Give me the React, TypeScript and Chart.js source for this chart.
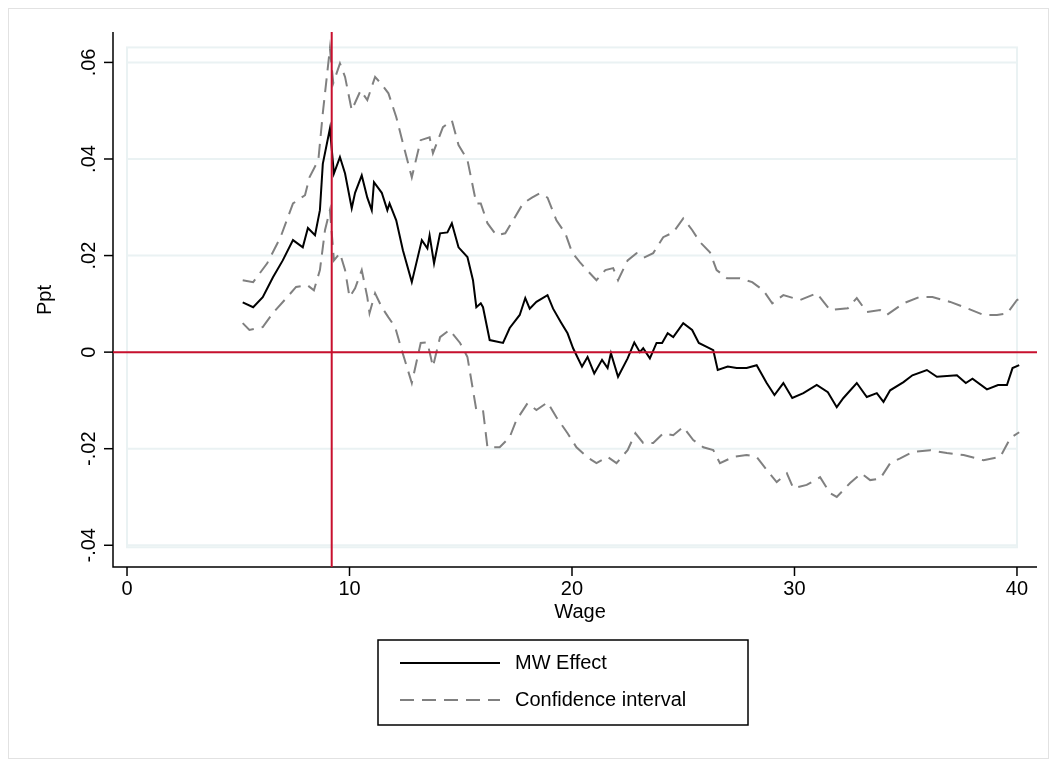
import { Chart, registerables } from 'chart.js';
import { useEffect, useRef } from 'react';

Chart.register(...registerables);

const effectX = [5.2, 5.67, 6.1, 6.56, 7.0, 7.46, 7.9, 8.13, 8.45, 8.67, 8.8, 9.12, 9.3, 9.57, 9.8, 10.1, 10.25, 10.55, 10.8, 11.0, 11.1, 11.45, 11.7, 11.8, 12.1, 12.4, 12.8, 13.25, 13.5, 13.6, 13.8, 14.07, 14.4, 14.6, 14.9, 15.3, 15.55, 15.7, 15.9, 16.0, 16.3, 16.9, 17.2, 17.65, 17.9, 18.1, 18.4, 18.9, 19.15, 19.5, 19.8, 20.05, 20.45, 20.7, 21.0, 21.35, 21.6, 21.75, 22.07, 22.5, 22.8, 23.05, 23.2, 23.5, 23.8, 24.05, 24.3, 24.55, 25.0, 25.4, 25.7, 26.1, 26.35, 26.55, 27.0, 27.4, 27.85, 28.3, 28.75, 29.1, 29.5, 29.9, 30.4, 31.0, 31.5, 31.9, 32.2, 32.8, 33.25, 33.7, 34.0, 34.3, 34.9, 35.3, 35.95, 36.4, 37.3, 37.7, 38.0, 38.65, 39.15, 39.55, 39.8, 40.1];
const effectY = [0.0103, 0.0093, 0.0114, 0.0155, 0.019, 0.0232, 0.0217, 0.0257, 0.0242, 0.0294, 0.039, 0.0463, 0.037, 0.0404, 0.037, 0.0298, 0.033, 0.0366, 0.032, 0.0294, 0.0352, 0.033, 0.0294, 0.0308, 0.0273, 0.0211, 0.0145, 0.0232, 0.0215, 0.0242, 0.0184, 0.0246, 0.0248, 0.0267, 0.0217, 0.0197, 0.0149, 0.0093, 0.0101, 0.0093, 0.0025, 0.0019, 0.005, 0.0077, 0.0112, 0.009, 0.0104, 0.0118, 0.009, 0.0062, 0.0039, 0.0008, -0.003, -0.001, -0.0044, -0.0016, -0.0033, -0.0002, -0.0051, -0.0013, 0.002, 0.0, 0.0008, -0.0013, 0.0019, 0.0019, 0.0039, 0.0031, 0.006, 0.0046, 0.0019, 0.001, 0.0004, -0.0037, -0.003, -0.0033, -0.0033, -0.0027, -0.0064, -0.0089, -0.0064, -0.0095, -0.0085, -0.0068, -0.0083, -0.0114, -0.0095, -0.0064, -0.0093, -0.0085, -0.0103, -0.0079, -0.0062, -0.0048, -0.0037, -0.0051, -0.0048, -0.0064, -0.0055, -0.0077, -0.0068, -0.0068, -0.0033, -0.0027];

const upperX = [5.2, 5.67, 6.3, 6.9, 7.46, 8.0, 8.2, 8.6, 8.8, 9.12, 9.27, 9.57, 9.8, 10.1, 10.5, 10.8, 11.15, 11.4, 11.75, 12.1, 12.4, 12.8, 13.2, 13.6, 13.75, 14.2, 14.6, 14.9, 15.3, 15.7, 15.9, 16.2, 16.6, 17.0, 17.35, 17.8, 18.2, 18.55, 18.9, 19.3, 19.7, 20.0, 20.36, 20.67, 21.1, 21.5, 21.85, 22.07, 22.5, 22.9, 23.2, 23.65, 24.1, 24.55, 25.0, 25.4, 25.75, 26.2, 26.5, 26.97, 27.55, 28.1, 28.6, 29.0, 29.5, 30.25, 31.0, 31.6, 32.4, 32.8, 33.25, 33.85, 34.15, 34.9, 35.6, 36.2, 37.0, 37.75, 38.5, 39.1, 39.55, 40.0, 40.1];
const upperY = [0.0149, 0.0145, 0.0184, 0.0238, 0.0308, 0.0325, 0.0362, 0.0398, 0.0495, 0.0629, 0.0557, 0.0598, 0.057, 0.0501, 0.0542, 0.0522, 0.057, 0.0557, 0.0536, 0.0487, 0.0433, 0.0362, 0.0439, 0.0445, 0.0412, 0.0466, 0.048, 0.0429, 0.0398, 0.0308, 0.0308, 0.0267, 0.0242, 0.0246, 0.0273, 0.0308, 0.032, 0.0329, 0.032, 0.0273, 0.0246, 0.0207, 0.0186, 0.017, 0.0149, 0.017, 0.0174, 0.0149, 0.019, 0.0205, 0.0195, 0.0205, 0.0238, 0.0248, 0.0277, 0.0253, 0.0228, 0.0207, 0.017, 0.0153, 0.0153, 0.0145, 0.0128, 0.0101, 0.0118, 0.0108, 0.0122, 0.0087, 0.0091, 0.0112, 0.0083, 0.0087, 0.0077, 0.0101, 0.0114, 0.0114, 0.0104, 0.0091, 0.0077, 0.0077, 0.008, 0.0108, 0.011];

const lowerX = [5.2, 5.5, 6.1, 6.56, 7.2, 7.6, 8.1, 8.4, 8.67, 8.9, 9.12, 9.3, 9.57, 9.8, 10.0, 10.25, 10.55, 10.8, 10.9, 11.15, 11.45, 11.75, 12.05, 12.35, 12.8, 13.2, 13.5, 13.75, 14.07, 14.5, 14.97, 15.3, 15.7, 16.0, 16.2, 16.75, 17.2, 17.5, 18.0, 18.4, 18.9, 19.3, 19.8, 20.2, 20.67, 21.1, 21.6, 22.0, 22.5, 22.85, 23.2, 23.65, 24.1, 24.55, 25.0, 25.45, 25.9, 26.35, 26.65, 27.25, 27.85, 28.3, 28.75, 29.2, 29.66, 29.95, 30.55, 31.15, 31.6, 31.9, 32.5, 33.0, 33.4, 33.85, 34.3, 34.75, 35.3, 36.1, 36.85, 37.6, 38.5, 39.25, 39.7, 40.1];
const lowerY = [0.006, 0.0046, 0.0052, 0.0081, 0.0114, 0.0135, 0.0139, 0.0128, 0.017, 0.0253, 0.0294, 0.019, 0.0205, 0.017, 0.0114, 0.0132, 0.017, 0.0114, 0.0081, 0.0122, 0.0093, 0.0072, 0.0052, 0.0004, -0.0064, 0.0019, 0.002, -0.003, 0.0031, 0.0046, 0.0019, -0.001, -0.012, -0.012, -0.0197, -0.0197, -0.0176, -0.0141, -0.0106, -0.012, -0.0104, -0.0135, -0.0168, -0.0197, -0.0217, -0.023, -0.0217, -0.023, -0.0203, -0.0168, -0.0188, -0.0188, -0.0168, -0.0172, -0.0155, -0.0182, -0.0197, -0.0203, -0.023, -0.0217, -0.0213, -0.0217, -0.0244, -0.0269, -0.0251, -0.0282, -0.0275, -0.0259, -0.0292, -0.03, -0.0271, -0.0251, -0.0265, -0.0262, -0.023, -0.022, -0.0207, -0.0203, -0.0209, -0.0213, -0.0224, -0.0217, -0.0178, -0.0166];

const xTicks = [0, 10, 20, 30, 40];
const yTicks = [-0.04, -0.02, 0, 0.02, 0.04, 0.06];
const yTickLabels = ['-.04', '-.02', '0', '.02', '.04', '.06'];
const minWage = 9.2;
const seriesNames = ['MW Effect', 'Confidence interval'];

const RED = '#c8102e';
const GRAY = '#808080';
const FONT = '20px "Liberation Sans", Arial, sans-serif';

const toPoints = (xs: number[], ys: number[]) => xs.map((x, i) => ({ x, y: ys[i] }));

const stataPlugin = {
	id: 'stata',
	beforeDatasetsDraw(chart: any) {
		const { ctx, chartArea: a, scales } = chart;
		const xs = scales.x;
		const ys = scales.y;
		ctx.save();
		// outer frame
		ctx.strokeStyle = '#e2e2e2';
		ctx.lineWidth = 1;
		ctx.strokeRect(8.5, 8.5, 1040, 750);
		// inner plot region
		const l = xs.getPixelForValue(0);
		const r = xs.getPixelForValue(40);
		const t = ys.getPixelForValue(0.06) - 15;
		const b = ys.getPixelForValue(-0.04) + 2;
		ctx.strokeStyle = '#eaf2f3';
		ctx.lineWidth = 2;
		ctx.strokeRect(l, t, r - l, b - t);
		yTicks.forEach((v) => {
			const y = ys.getPixelForValue(v);
			ctx.beginPath();
			ctx.moveTo(l, y);
			ctx.lineTo(r, y);
			ctx.stroke();
		});
		// axes
		ctx.strokeStyle = '#000';
		ctx.lineWidth = 1.5;
		ctx.beginPath();
		ctx.moveTo(a.left, a.top);
		ctx.lineTo(a.left, a.bottom);
		ctx.lineTo(a.right, a.bottom);
		ctx.stroke();
		ctx.fillStyle = '#000';
		ctx.font = FONT;
		ctx.textAlign = 'center';
		ctx.textBaseline = 'top';
		xTicks.forEach((v) => {
			const x = xs.getPixelForValue(v);
			ctx.beginPath();
			ctx.moveTo(x, a.bottom);
			ctx.lineTo(x, a.bottom + 9);
			ctx.stroke();
			ctx.fillText(String(v), x, a.bottom + 12);
		});
		yTicks.forEach((v, i) => {
			const y = ys.getPixelForValue(v);
			ctx.beginPath();
			ctx.moveTo(a.left, y);
			ctx.lineTo(a.left - 9, y);
			ctx.stroke();
			ctx.save();
			ctx.translate(a.left - 14, y);
			ctx.rotate(-Math.PI / 2);
			ctx.textBaseline = 'bottom';
			ctx.fillText(yTickLabels[i], 0, 0);
			ctx.restore();
		});
		ctx.fillText('Wage', (a.left + a.right) / 2 + 5, a.bottom + 35);
		ctx.save();
		ctx.translate(45, 300);
		ctx.rotate(-Math.PI / 2);
		ctx.textBaseline = 'middle';
		ctx.fillText('Ppt', 0, 0);
		ctx.restore();
		ctx.restore();
	},
	afterDatasetsDraw(chart: any) {
		const { ctx, chartArea: a, scales } = chart;
		ctx.save();
		ctx.strokeStyle = RED;
		ctx.lineWidth = 2;
		const y0 = scales.y.getPixelForValue(0);
		const xm = scales.x.getPixelForValue(minWage);
		ctx.beginPath();
		ctx.moveTo(a.left, y0);
		ctx.lineTo(a.right, y0);
		ctx.moveTo(xm, a.top);
		ctx.lineTo(xm, a.bottom);
		ctx.stroke();
		// legend
		ctx.strokeStyle = '#000';
		ctx.lineWidth = 1.5;
		ctx.strokeRect(378, 640, 370, 85);
		ctx.beginPath();
		ctx.lineWidth = 2;
		ctx.moveTo(400, 663);
		ctx.lineTo(500, 663);
		ctx.stroke();
		ctx.strokeStyle = GRAY;
		ctx.setLineDash([14, 8]);
		ctx.beginPath();
		ctx.moveTo(400, 700);
		ctx.lineTo(500, 700);
		ctx.stroke();
		ctx.setLineDash([]);
		ctx.fillStyle = '#000';
		ctx.font = FONT;
		ctx.textBaseline = 'middle';
		ctx.fillText(seriesNames[0], 515, 663);
		ctx.fillText(seriesNames[1], 515, 700);
		ctx.restore();
	},
};

export default function App() {
	const canvasRef = useRef<HTMLCanvasElement | null>(null);

	useEffect(() => {
		if (!canvasRef.current) return;
		const ctx = canvasRef.current.getContext('2d');
		if (!ctx) return;
		const chart = new Chart(ctx, {
			type: 'line',
			data: {
				datasets: [
					{
						label: seriesNames[1],
						data: toPoints(upperX, upperY),
						borderColor: GRAY,
						borderWidth: 2,
						borderDash: [14, 8],
						pointRadius: 0,
					},
					{
						label: seriesNames[1],
						data: toPoints(lowerX, lowerY),
						borderColor: GRAY,
						borderWidth: 2,
						borderDash: [14, 8],
						pointRadius: 0,
					},
					{
						label: seriesNames[0],
						data: toPoints(effectX, effectY),
						borderColor: '#000',
						borderWidth: 2,
						pointRadius: 0,
					},
				],
			},
			options: {
				animation: false,
				responsive: false,
				layout: { padding: { left: 113, top: 32, right: 20, bottom: 200 } },
				scales: {
					x: { type: 'linear', display: false, min: -0.63, max: 40.9 },
					y: { type: 'linear', display: false, min: -0.0445, max: 0.0663 },
				},
				plugins: { legend: { display: false }, tooltip: { enabled: false } },
			},
			plugins: [stataPlugin],
		});
		return () => chart.destroy();
	}, []);

	return (
		<div style={{ position: 'fixed', left: 0, top: 0, background: '#fff' }}>
			<canvas ref={canvasRef} width={1057} height={767}></canvas>
		</div>
	);
}
